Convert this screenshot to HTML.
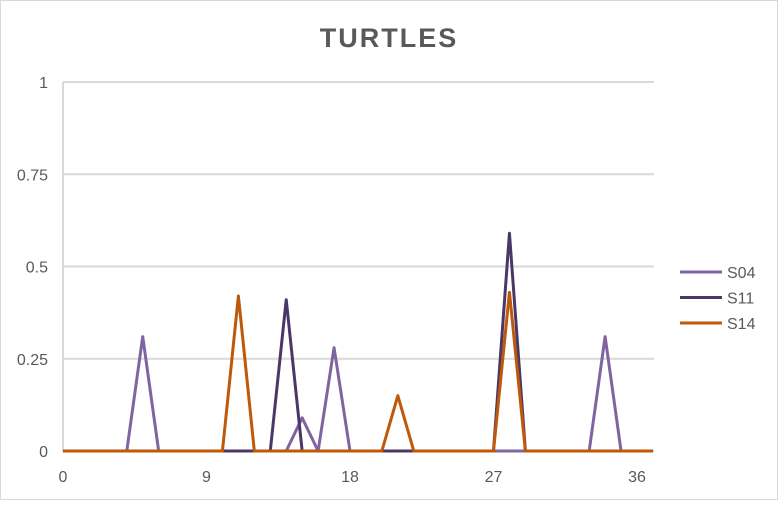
<!DOCTYPE html>
<html><head><meta charset="utf-8"><style>
body{margin:0;background:#fff;font-family:"Liberation Sans",sans-serif}
#c{position:relative;width:778px;height:500px}
</style></head><body>
<div id="c">
<svg id="s" width="778" height="500"></svg>
</div>
<script>
const xs=[...Array(38).keys()];
const seriesNames=["S04","S11","S14"];
const s04=[0,0,0,0,0,0.31,0,0,0,0,0,0,0,0,0,0.09,0,0.28,0,0,0,0,0,0,0,0,0,0,0,0,0,0,0,0,0.31,0,0,0];
const s11=[0,0,0,0,0,0,0,0,0,0,0,0,0,0,0.41,0,0,0,0,0,0,0,0,0,0,0,0,0,0.59,0,0,0,0,0,0,0,0,0];
const s14=[0,0,0,0,0,0,0,0,0,0,0,0.42,0,0,0,0,0,0,0,0,0,0.15,0,0,0,0,0,0,0.43,0,0,0,0,0,0,0,0,0];
const yTicks=[0,0.25,0.5,0.75,1];
const yTickLabels=["0","0.25","0.5","0.75","1"];
const xTicks=[0,9,18,27,36];
const colors=["#8064a2","#4b3766","#c0580a"];
const svg=document.getElementById('s');const NS="http://www.w3.org/2000/svg";
const X=v=>63+v*(637-63)/36, Y=v=>451-v*369;
function mk(t,a,p){const e=document.createElementNS(NS,t);for(const k in a)e.setAttribute(k,a[k]);(p||svg).appendChild(e);return e;}
let b=mk('rect',{x:0.5,y:0.5,width:777,height:499,fill:'#fff',stroke:'#d9d9d9'});

let t=mk('text',{x:389,y:47,'text-anchor':'middle','font-size':27,'font-weight':'bold',fill:'#595959','letter-spacing':'2'});t.textContent="TURTLES";

yTicks.forEach((v,i)=>{
 let g=mk('line',{x1:63,x2:654,y1:Y(v),y2:Y(v),stroke:'#d9d9d9','stroke-width':2});
 
 let l=mk('text',{x:48,y:Y(v)+6,'text-anchor':'end','font-size':16,fill:'#595959'});l.textContent=yTickLabels[i];
 
});
let ax=mk('line',{x1:63,x2:63,y1:82,y2:452,stroke:'#d9d9d9','stroke-width':2});

xTicks.forEach(v=>{
 let l=mk('text',{x:X(v),y:482,'text-anchor':'middle','font-size':16,fill:'#595959'});l.textContent=String(v);
 
});
[s04,s11,s14].forEach((d,i)=>{
 let p=mk('polyline',{points:d.map((v,j)=>X(xs[j])+','+Y(v)).join(' '),fill:'none',stroke:colors[i],'stroke-width':3,'stroke-linejoin':'round'});
 
 let ly=272+i*25.5;
 let ll=mk('line',{x1:680,x2:722,y1:ly,y2:ly,stroke:colors[i],'stroke-width':3});
 
 let lt=mk('text',{x:727,y:ly+6,'font-size':16,fill:'#595959'});lt.textContent=seriesNames[i];
 
});
</script>
</body></html>
